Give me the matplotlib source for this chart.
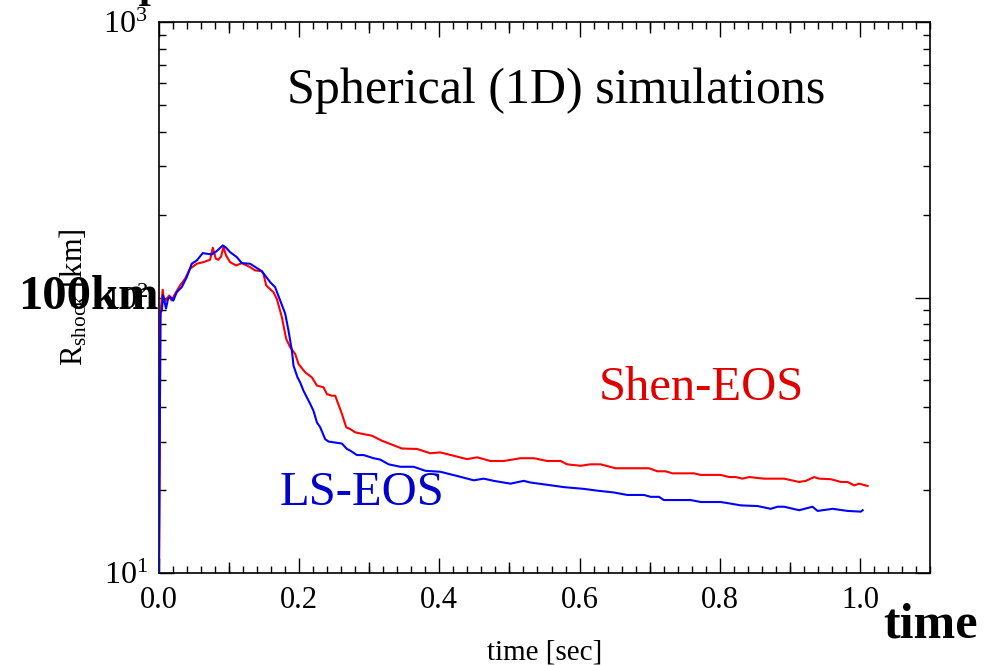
import matplotlib
matplotlib.use("Agg")
import matplotlib.pyplot as plt
from matplotlib.ticker import FixedLocator, MultipleLocator, LogLocator, NullFormatter

plt.rcParams['font.family'] = ['Liberation Serif', 'DejaVu Serif']
plt.rcParams['mathtext.fontset'] = 'custom'
plt.rcParams['mathtext.rm'] = 'Liberation Serif'
plt.rcParams['mathtext.it'] = 'Liberation Serif:italic'
plt.rcParams['mathtext.bf'] = 'Liberation Serif:bold'

# Shock radius [km] vs. post-bounce time [sec]
t_ls = [0.0, 0.002, 0.004, 0.006, 0.010, 0.013, 0.0167, 0.0204, 0.0253, 0.0324,
        0.0396, 0.0467, 0.0539, 0.0624, 0.0753, 0.0824, 0.091, 0.0957, 0.1014, 0.111,
        0.1181, 0.130, 0.1467, 0.1586, 0.1657, 0.1729, 0.180, 0.1847, 0.1896, 0.1919,
        0.1976, 0.2014, 0.2061, 0.2157, 0.2204, 0.2253, 0.230, 0.2371, 0.2419, 0.261,
        0.2681, 0.2729, 0.2824, 0.2919, 0.3061, 0.3157, 0.3276, 0.3443, 0.3633, 0.380,
        0.4014, 0.4253, 0.449, 0.4633, 0.4776, 0.5014, 0.5204, 0.530, 0.5539, 0.5776,
        0.6061, 0.6253, 0.649, 0.6681, 0.6919, 0.7014, 0.7133, 0.7204, 0.7586, 0.7729,
        0.8014, 0.8133, 0.830, 0.8539, 0.8729, 0.8824, 0.8919, 0.9133, 0.9324, 0.9396,
        0.961, 0.9824, 1.0014, 1.0039]
r_ls = [10.0, 88.2, 89.7, 101.7, 91.2, 99.2, 100.3, 97.5, 104.5, 109.0,
        118.5, 132.6, 136.3, 144.9, 143.3, 147.4, 154.6, 151.6, 146.1, 140.2,
        133.3, 132.6, 124.6, 113.7, 109.0, 97.5, 87.5, 75.9, 64.2, 56.6,
        51.3, 49.2, 45.9, 41.1, 38.8, 35.2, 33.8, 30.6, 30.0, 29.5,
        28.2, 27.8, 26.8, 26.8, 26.1, 25.8, 24.8, 24.3, 24.3, 23.5,
        23.3, 22.5, 21.7, 22.0, 21.6, 21.1, 21.6, 21.3, 20.9, 20.5,
        20.2, 19.9, 19.6, 19.2, 19.2, 18.9, 18.9, 18.4, 18.4, 18.1,
        18.1, 17.9, 17.6, 17.5, 17.1, 17.4, 17.4, 16.9, 17.4, 16.8,
        17.1, 16.8, 16.7, 16.9]

t_shen = [0.0, 0.002, 0.0024, 0.0053, 0.0071, 0.011, 0.0147, 0.0181, 0.0229, 0.030,
          0.0371, 0.0443, 0.0539, 0.0633, 0.0729, 0.0767, 0.081, 0.0847, 0.0886, 0.0919,
          0.0957, 0.1014, 0.110, 0.1181, 0.130, 0.1371, 0.1467, 0.149, 0.1529, 0.1633,
          0.1681, 0.1753, 0.1814, 0.1871, 0.1943, 0.199, 0.2086, 0.2181, 0.2253, 0.2347,
          0.2396, 0.2467, 0.2514, 0.261, 0.2671, 0.2729, 0.280, 0.2871, 0.3039, 0.3181,
          0.3467, 0.3681, 0.3871, 0.4014, 0.4396, 0.4539, 0.4729, 0.4919, 0.5157, 0.5347,
          0.5539, 0.5729, 0.5824, 0.6014, 0.6157, 0.630, 0.6514, 0.699, 0.711, 0.7229,
          0.7324, 0.7633, 0.7729, 0.8014, 0.8133, 0.8229, 0.8324, 0.8419, 0.8633, 0.8919,
          0.9133, 0.9229, 0.9347, 0.9419, 0.9586, 0.9729, 0.9824, 0.9919, 0.999, 1.011]
r_shen = [10.0, 82.5, 89.7, 106.7, 96.1, 98.9, 101.7, 97.5, 103.1, 110.6,
          116.9, 127.2, 132.6, 134.4, 137.1, 151.6, 138.3, 137.1, 141.0, 152.4,
          142.1, 134.4, 130.7, 133.3, 128.9, 125.4, 124.6, 122.0, 110.6, 104.5,
          98.9, 84.8, 70.8, 66.0, 62.4, 57.4, 53.5, 51.3, 47.9, 47.2,
          44.6, 44.0, 44.0, 37.8, 33.8, 33.3, 32.4, 32.1, 31.5, 30.2,
          28.3, 28.2, 27.2, 27.4, 25.9, 26.3, 25.5, 25.5, 26.1, 26.1,
          25.5, 25.5, 24.8, 24.5, 24.8, 24.8, 24.0, 24.0, 23.4, 23.4,
          23.0, 23.0, 22.7, 22.7, 22.3, 22.3, 22.0, 22.3, 22.0, 22.0,
          21.4, 21.6, 22.3, 22.0, 21.9, 21.4, 21.4, 20.8, 21.1, 20.7]

x_label_ticks = [0.0, 0.2, 0.4, 0.6, 0.8, 1.0]
x_mid_ticks = [0.1, 0.3, 0.5, 0.7, 0.9]

fig = plt.figure(figsize=(9.98, 6.65), dpi=100)
ax = fig.add_axes([159/998, 1 - 573/665, (930 - 159)/998, (573 - 22)/665])

ax.plot(t_shen, r_shen, color='#ff0000', lw=1.5, zorder=3)
ax.plot(t_ls, r_ls, color='#0000ff', lw=1.5, zorder=4)

ax.set_yscale('log')
ax.set_xlim(0.0, 1.1)
ax.set_ylim(10, 1000)

ax.xaxis.set_major_locator(FixedLocator(x_label_ticks))
ax.xaxis.set_major_formatter(plt.FuncFormatter(lambda v, p: f"{v:.1f}"))
ax.xaxis.set_minor_locator(MultipleLocator(0.02))
ax.yaxis.set_major_locator(LogLocator(base=10, numticks=5))
ax.yaxis.set_minor_locator(LogLocator(base=10, subs=range(2, 10), numticks=20))
ax.yaxis.set_minor_formatter(NullFormatter())

ax.tick_params(which='both', direction='in', top=True, right=True, width=1.0, colors='black')
ax.tick_params(which='major', length=10.5, labelsize=22, pad=9)
ax.tick_params(which='minor', length=5)
ax.tick_params(axis='y', which='major', pad=8, labelsize=23)
for sp in ax.spines.values():
    sp.set_linewidth(1.2)

# medium-length ticks at odd tenths on bottom and top
for loc in ('bottom', 'top'):
    sec = ax.secondary_xaxis(loc)
    sec.set_xticks(x_mid_ticks)
    sec.set_xticklabels([])
    sec.tick_params(direction='in', length=8, width=1.0)
    sec.spines[loc].set_visible(False)

ax.set_xlabel('time [sec]', fontsize=21, labelpad=18)
ax.set_ylabel(r'R$_{\mathrm{shock}}$ [km]', fontsize=22, labelpad=10)

ax.text(0.5146, 0.876, 'Spherical (1D) simulations', transform=ax.transAxes,
        fontsize=36, ha='center', va='center', color='black')
ax.text(0.703, 0.336, 'Shen-EOS', transform=ax.transAxes,
        fontsize=35, ha='center', va='center', color='#e00000')
ax.text(0.263, 0.145, 'LS-EOS', transform=ax.transAxes,
        fontsize=35, ha='center', va='center', color='#0000cc')

fig.text(88/998, 1 - 297/665, '100km', fontsize=35, fontweight='bold',
         ha='center', va='center', color='black')
fig.text(930/998, 1 - 625/665, 'time', fontsize=36, fontweight='bold',
         ha='center', va='center', color='black')
fig.text(147/998, 1 - 6/665, 'r', fontsize=30, fontweight='bold',
         ha='center', va='baseline', color='black')

fig.savefig('out.png', dpi=100)
